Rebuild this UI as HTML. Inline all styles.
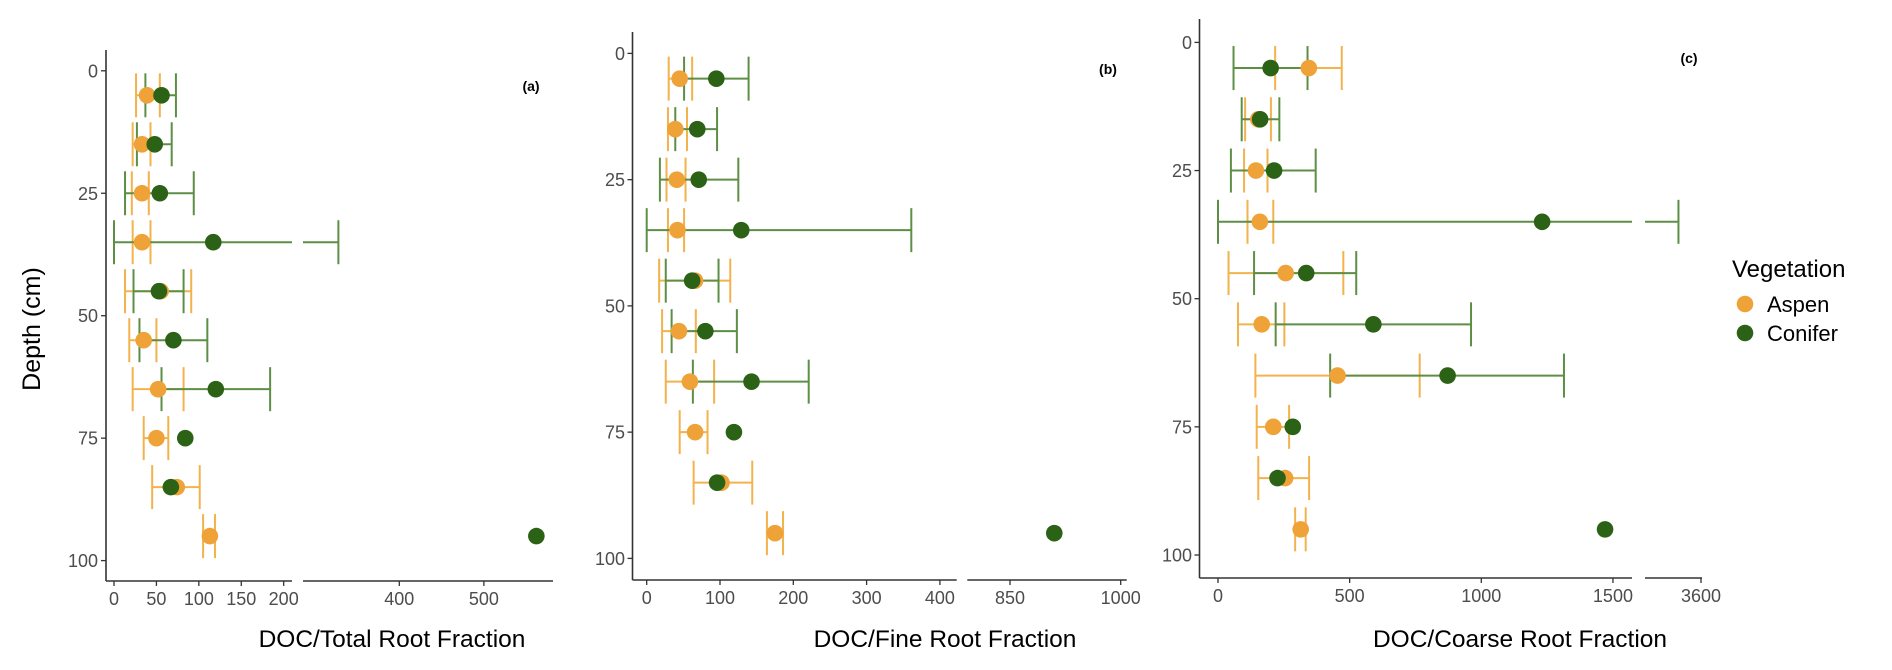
<!DOCTYPE html>
<html><head><meta charset="utf-8">
<style>
html,body{margin:0;padding:0;background:#fff;}
svg{display:block;font-family:"Liberation Sans",Arial,sans-serif;}
</style></head>
<body>
<svg id="chart" width="1892" height="670" viewBox="0 0 1892 670" xmlns="http://www.w3.org/2000/svg">
  <text x="0" y="0" transform="translate(40,329) rotate(-90)" text-anchor="middle" font-size="25" fill="#000">Depth (cm)</text>
  <g>
    <text x="1732" y="277" font-size="24" fill="#000">Vegetation</text>
    <circle cx="1745" cy="304" r="8.3" fill="#EEA238"/>
    <text x="1767" y="312" font-size="22" fill="#000">Aspen</text>
    <circle cx="1745" cy="333" r="8.3" fill="#2B6216"/>
    <text x="1767" y="341" font-size="22" fill="#000">Conifer</text>
  </g>
</svg>
<script>
const depths = [5,15,25,35,45,55,65,75,85,95];
const yTicks = [0,25,50,75,100];

const aAspenMean = [39,33,33,33,55,35,52,50,74,113];
const aAspenLo   = [26,22,21,22,13,18,22,35,45,105];
const aAspenHi   = [54,43,41,43,91,50,82,64,101,119];
const aConMean   = [56,48,54,117,53,70,120,84,67,562];
const aConLo     = [37,27,13,0,23,30,56,null,null,null];
const aConHi     = [73,68,94,328,82,110,184,null,null,null];
const aTicks1 = [0,50,100,150,200];
const aTicks2 = [400,500];

const bAspenMean = [45,39,41,42,66,44,59,66,102,175];
const bAspenLo   = [30,29,27,29,17,21,26,45,64,164];
const bAspenHi   = [62,55,53,51,114,67,92,83,144,186];
const bConMean   = [95,69,71,129,62,80,143,119,96,910];
const bConLo     = [51,39,18,0,26,34,63,null,null,null];
const bConHi     = [139,96,125,361,98,123,221,null,null,null];
const bTicks1 = [0,100,200,300,400];
const bTicks2 = [850,1000];

const cAspenMean = [345,153,144,159,257,166,454,210,255,314];
const cAspenLo   = [217,103,99,112,40,76,142,147,153,293];
const cAspenHi   = [470,201,188,210,476,252,766,270,346,333];
const cConMean   = [200,160,213,1231,335,590,872,284,226,1470];
const cConLo     = [59,90,49,0,137,219,426,null,null,null];
const cConHi     = [340,233,371,3433,525,961,1314,null,null,null];
const cTicks1 = [0,500,1000,1500];
const cTicks2 = [3600];

const NS = "http://www.w3.org/2000/svg";
const svg = document.getElementById('chart');
function mk(tag, attrs, parent){
  const e = document.createElementNS(NS, tag);
  for (const k in attrs) e.setAttribute(k, attrs[k]);
  (parent||svg).appendChild(e);
  return e;
}

const panels = [
  {id:'a', label:'(a)', lx:531, ly:91, title:'DOC/Total Root Fraction', tx:392,
   axX:106, top:50, bottom:581, y0:70.8, yk:4.898, tickRight:98,
   s1:{x0:114, k:0.8485, x1:106, x2:292, max:210},
   s2:{ref:400, xref:399.3, k:0.846, x1:303, x2:553, min:286},
   t1:aTicks1, t2:aTicks2,
   am:aAspenMean, al:aAspenLo, ah:aAspenHi, cm:aConMean, cl:aConLo, ch:aConHi},
  {id:'b', label:'(b)', lx:1108, ly:74, title:'DOC/Fine Root Fraction', tx:945,
   axX:632.5, top:32, bottom:580, y0:53.4, yk:5.05, tickRight:625,
   s1:{x0:646.7, k:0.733, x1:632.5, x2:956.7, max:423},
   s2:{ref:850, xref:1010, k:0.738, x1:967.3, x2:1126.7, min:792},
   t1:bTicks1, t2:bTicks2,
   am:bAspenMean, al:bAspenLo, ah:bAspenHi, cm:bConMean, cl:bConLo, ch:bConHi},
  {id:'c', label:'(c)', lx:1689, ly:63, title:'DOC/Coarse Root Fraction', tx:1520,
   axX:1199.5, top:19, bottom:578, y0:42.4, yk:5.126, tickRight:1192,
   s1:{x0:1218, k:0.2633, x1:1199.5, x2:1632, max:1572},
   s2:{ref:3600, xref:1701, k:0.135, x1:1645, x2:1702, min:3185},
   t1:cTicks1, t2:cTicks2,
   am:cAspenMean, al:cAspenLo, ah:cAspenHi, cm:cConMean, cl:cConLo, ch:cConHi}
];

const ASPEN = '#EEA238', ASPEN_BAR = '#F2B24C';
const CON = '#2B6216', CON_BAR = '#5C8F45';

panels.forEach(p => {
  const g = mk('g', {});
  
  
  const yS = d => p.y0 + p.yk * d;
  const x1 = v => p.s1.x0 + p.s1.k * v;
  const x2 = v => p.s2.xref + p.s2.k * (v - p.s2.ref);
  const xS = v => (v <= p.s1.max ? x1(v) : x2(v));

  const ya = mk('line', {x1:p.axX, y1:p.top, x2:p.axX, y2:p.bottom, stroke:'#333', 'stroke-width':1.6}, g);
  
  
  yTicks.forEach(t => {
    const yy = yS(t);
    mk('line', {x1:p.axX-5, y1:yy, x2:p.axX, y2:yy, stroke:'#333', 'stroke-width':1.3}, g);
    const tl = mk('text', {x:p.tickRight, y:yy+6.5, 'text-anchor':'end', 'font-size':18, fill:'#4D4D4D'}, g);
    
    
    tl.textContent = t;
  });
  const xa1 = mk('line', {x1:p.s1.x1, y1:p.bottom, x2:p.s1.x2, y2:p.bottom, stroke:'#333', 'stroke-width':1.6}, g);
  
  
  const xa2 = mk('line', {x1:p.s2.x1, y1:p.bottom, x2:p.s2.x2, y2:p.bottom, stroke:'#333', 'stroke-width':1.6}, g);
  
  
  const allTicks = p.t1.map(t => [t, x1(t)]).concat(p.t2.map(t => [t, x2(t)]));
  allTicks.forEach(([t, xx]) => {
    mk('line', {x1:xx, y1:p.bottom, x2:xx, y2:p.bottom+5, stroke:'#333', 'stroke-width':1.3}, g);
    const tl = mk('text', {x:xx, y:p.bottom+24, 'text-anchor':'middle', 'font-size':18, fill:'#4D4D4D'}, g);
    
    
    tl.textContent = t;
  });
  const xt = mk('text', {x:p.tx, y:647, 'text-anchor':'middle', 'font-size':24.5, fill:'#000'}, g);
  
  
  xt.textContent = p.title;
  const pl = mk('text', {x:p.lx, y:p.ly, 'text-anchor':'middle', 'font-size':14, 'font-weight':'bold', fill:'#000'}, g);
  
  
  pl.textContent = p.label;

  function errbar(lo, hi, yy, color, name) {
    const eg = mk('g', {}, g);
    
    
    const st = {stroke:color, 'stroke-width':2};
    if (hi > p.s1.max && lo <= p.s1.max) {
      mk('line', Object.assign({x1:xS(lo), y1:yy, x2:p.s1.x2, y2:yy}, st), eg);
      mk('line', Object.assign({x1:p.s2.x1, y1:yy, x2:xS(hi), y2:yy}, st), eg);
    } else {
      mk('line', Object.assign({x1:xS(lo), y1:yy, x2:xS(hi), y2:yy}, st), eg);
    }
    mk('line', Object.assign({x1:xS(lo), y1:yy-22, x2:xS(lo), y2:yy+22}, st), eg);
    mk('line', Object.assign({x1:xS(hi), y1:yy-22, x2:xS(hi), y2:yy+22}, st), eg);
  }
  depths.forEach((d, i) => {
    const yy = yS(d);
    if (p.al[i] != null) errbar(p.al[i], p.ah[i], yy, ASPEN_BAR, 'aspen-error-bar');
    if (p.cl[i] != null) errbar(p.cl[i], p.ch[i], yy, CON_BAR, 'conifer-error-bar');
  });
  depths.forEach((d, i) => {
    const c = mk('circle', {cx:xS(p.am[i]), cy:yS(d), r:8.3, fill:ASPEN}, g);
    
    
  });
  depths.forEach((d, i) => {
    const c = mk('circle', {cx:xS(p.cm[i]), cy:yS(d), r:8.3, fill:CON}, g);
    
    
  });
});
</script>
</body></html>
